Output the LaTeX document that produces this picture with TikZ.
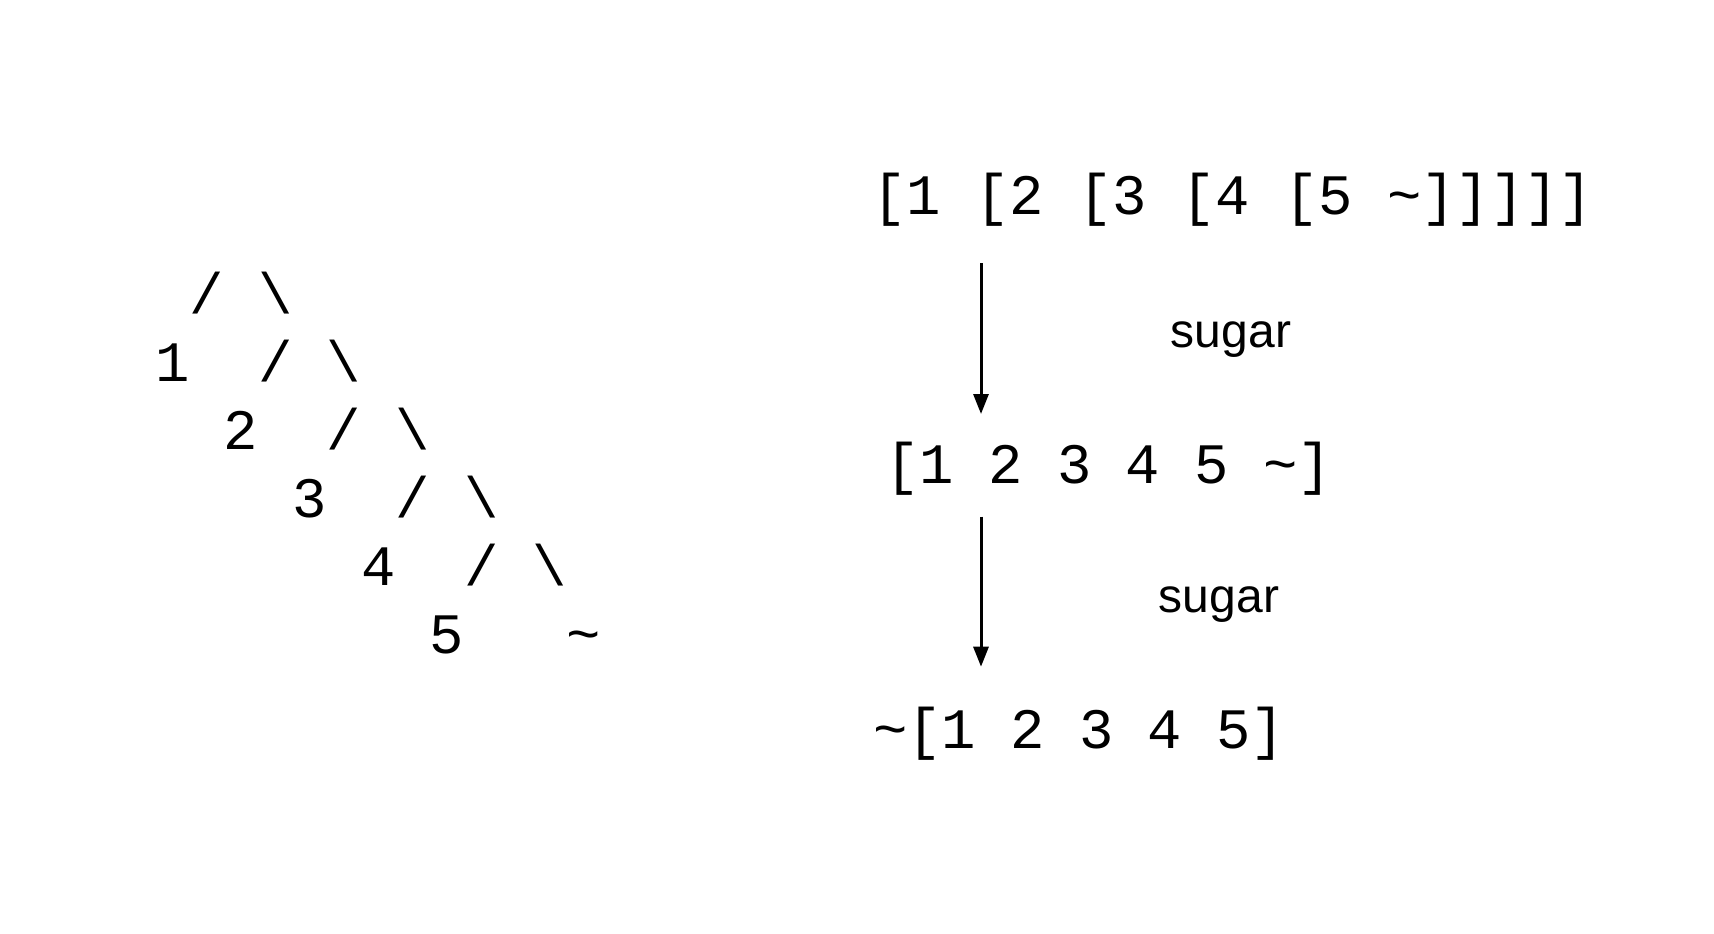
\documentclass[tikz,border=0pt]{standalone}
\usepackage{fontspec}
\setmainfont{Liberation Sans}
\newfontfamily\monof{Liberation Mono}
\usetikzlibrary{arrows.meta}
\begin{document}
\begin{tikzpicture}[x=1pt,y=-1pt,
  mono/.style={font=\monof\fontsize{57.2}{68}\selectfont, inner sep=0pt, outer sep=0pt},
  glyph/.style={mono, anchor=base},
  codeline/.style={mono, anchor=base west},
  lab/.style={font=\fontsize{48}{56}\selectfont, inner sep=0pt, anchor=base},
  arr/.style={line width=3pt, -{Triangle[length=20pt,width=15pt]}}]
\fill[white] (0,0) rectangle (1714,934);
\useasboundingbox (0,0) rectangle (1714,934);
% tree (monospaced glyphs)
\node[glyph] (sA) at (206.8,313) {/};
\node[glyph] (bA) at (275.4,313) {\textbackslash};
\node[glyph] (n1) at (172.5,381) {1};
\node[glyph] (sB) at (275.4,381) {/};
\node[glyph] (bB) at (344.0,381) {\textbackslash};
\node[glyph] (n2) at (241.1,449.5) {2};
\node[glyph] (sC) at (344.0,449.5) {/};
\node[glyph] (bC) at (412.6,449.5) {\textbackslash};
\node[glyph] (n3) at (309.7,517.5) {3};
\node[glyph] (sD) at (412.6,517.5) {/};
\node[glyph] (bD) at (481.2,517.5) {\textbackslash};
\node[glyph] (n4) at (378.3,585.5) {4};
\node[glyph] (sE) at (481.2,585.5) {/};
\node[glyph] (bE) at (549.8,585.5) {\textbackslash};
\node[glyph] (n5) at (446.9,653.5) {5};
\node[glyph] (nt) at (584.1,653.5) {\textasciitilde};
% right side
\node[codeline] (top) at (872.5,214.5) {[1 [2 [3 [4 [5 \textasciitilde]]]]]};
\node[codeline] (mid) at (885.5,483) {[1 2 3 4 5 \textasciitilde]};
\node[codeline] (bot) at (873.3,748) {\textasciitilde[1 2 3 4 5]};
\coordinate (ax) at (981,0);
\draw[arr, shorten <=48.5pt, shorten >=69pt] (top.base -| ax) -- (mid.base -| ax);
\draw[arr, shorten <=33.7pt, shorten >=81.3pt] (mid.base -| ax) -- (bot.base -| ax);
\node[lab] (s1) at (1231,347) {sugar};
\node[lab] (s2) at (1219,612) {sugar};
\end{tikzpicture}
\end{document}
